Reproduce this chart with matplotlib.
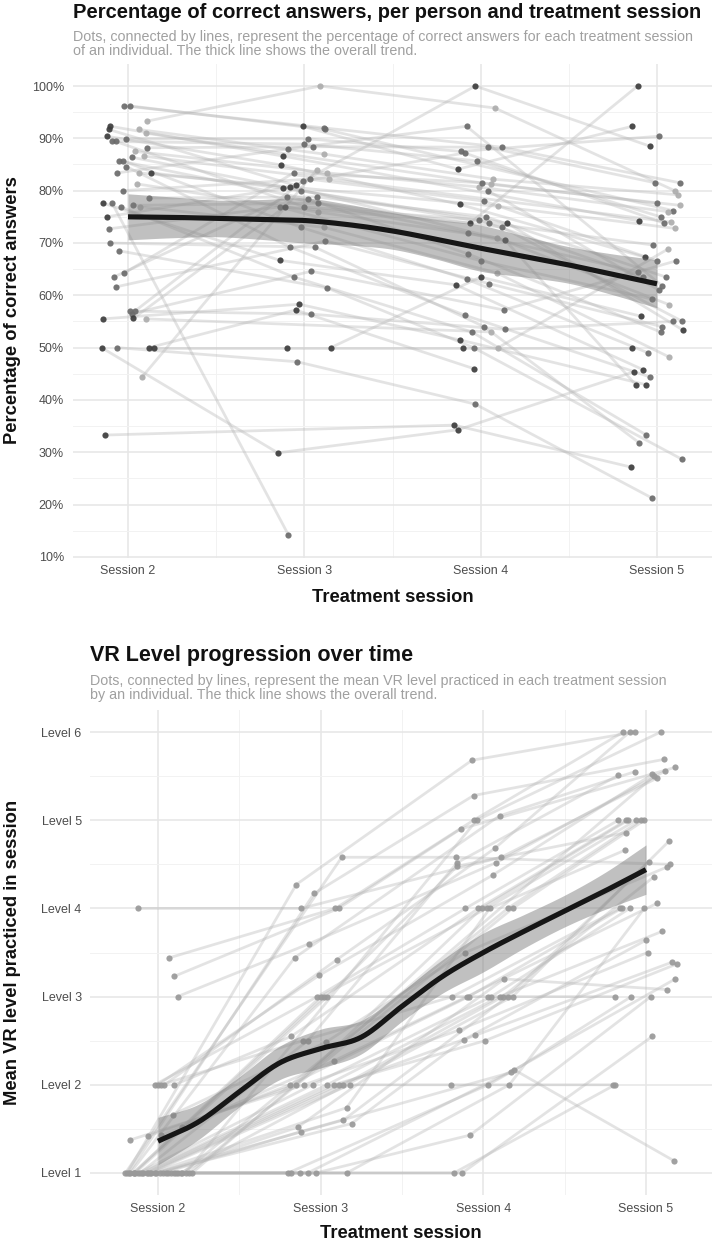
import numpy as np
import matplotlib
matplotlib.use("Agg")
import matplotlib.pyplot as plt

nan = np.nan

# ---------------- DATA ----------------
sessions = [2, 3, 4, 5]
session_labels = ["Session 2", "Session 3", "Session 4", "Session 5"]

# Panel 1: percentage of correct answers, one entry per individual
pct_s2 = [96.2, 96.2, 93.3, 92.3, 91.7, 91.7, 91.0, 90.4, 89.9, 89.4, 89.4, 88.2, 87.5, 86.6, 86.4, 85.7,
          85.7, 84.6, 83.4, 83.4, 83.4, 81.3, 80.0, 78.6, 77.6, 77.6, 77.2, 76.9, 76.9, 75.0, 72.7, 70.0,
          68.5, 64.3, 63.5, 61.6, 57.0, 57.0, 56.5, 55.6, 55.5, 55.5, 50.0, 50.0, 50.0, 50.0, 44.4, 33.3,
          nan, nan, nan, nan]
pct_s3 = [92.0, 91.7, 100.0, 86.6, 81.0, 87.0, nan, 84.9, 89.9, 88.9, 76.9, 88.4, 83.4, 82.2, 80.0, 78.4,
          73.0, 69.2, 88.0, nan, 80.5, 75.9, 82.2, 78.8, 66.7, 14.2, 77.6, 63.5, 73.0, 80.7, 76.9, 69.2,
          61.4, 83.4, 78.8, 70.4, 56.4, 81.8, 64.6, 76.9, 58.3, nan, 29.9, 47.3, 57.2, 50.0, 84.0, nan,
          92.3, 50.0, nan, nan]
pct_s4 = [88.3, nan, 95.8, nan, 100.0, 82.2, 81.2, 77.4, 87.5, 85.7, 74.4, 88.3, 80.7, nan, 73.8, 67.9,
          63.1, 56.2, 92.3, 77.0, 73.8, 71.0, 78.0, 75.0, 62.0, nan, 73.0, 53.0, 64.3, 70.5, 66.6, 54.0,
          50.0, 81.5, 71.9, 62.2, 53.5, 87.2, 57.2, 73.8, 51.5, 53.0, 34.3, 39.2, 46.0, 50.0, nan, 35.2,
          84.1, 63.5, 80.0, 50.0]
pct_s5 = [81.5, 76.2, 80.0, 74.2, 88.5, 79.2, 77.2, 67.3, 90.4, 75.0, 63.5, 81.5, 76.0, 74.0, 69.6, 53.0,
          49.0, 44.4, 61.8, 72.8, 53.3, 58.2, 66.6, 63.5, 45.8, nan, 55.1, 33.3, 48.2, 42.9, 59.3, 31.8,
          28.7, 77.6, 64.5, 54.0, 55.0, 73.8, 66.6, 100.0, 42.9, nan, 45.4, 21.3, nan, 50.0, nan, 27.2,
          92.3, 56.0, 61.0, 68.8]
# horizontal jitter of each dot (session units)
pct_jit_s2 = [-0.02, 0.01, 0.11, -0.10, -0.11, 0.06, 0.10, -0.12, -0.01, -0.09, -0.07, 0.11, 0.04, 0.09, 0.02, -0.05,
              -0.03, -0.01, -0.06, 0.06, 0.13, 0.05, -0.03, 0.12, -0.14, -0.09, 0.03, -0.04, 0.07, -0.12, -0.11, -0.10,
              -0.05, -0.02, -0.08, -0.07, 0.01, 0.04, 0.02, 0.03, -0.14, 0.10, -0.15, -0.06, 0.12, 0.15, 0.08, -0.13,
              0, 0, 0, 0]
pct_jit_s3 = [0.11, 0.12, 0.09, -0.12, -0.05, 0.11, 0, -0.13, 0.02, 0.00, 0.00, 0.05, 0.13, 0.14, -0.02, 0.02,
              -0.02, -0.08, -0.09, 0, -0.12, 0.08, 0.03, 0.07, -0.14, -0.09, 0.08, -0.06, 0.11, -0.08, -0.14, 0.06,
              0.13, -0.06, -0.10, 0.12, 0.04, -0.01, 0.04, -0.11, -0.03, 0, -0.15, -0.04, -0.05, -0.10, 0.07, 0,
              -0.01, 0.15, 0, 0]
pct_jit_s4 = [0.12, 0, 0.08, 0, -0.03, 0.07, 0.06, -0.12, -0.11, -0.02, -0.01, 0.04, -0.01, 0, 0.05, -0.07,
              -0.08, -0.09, -0.08, 0.10, 0.15, 0.09, 0.02, 0.03, -0.14, 0, 0.12, -0.05, 0.09, 0.14, 0.00, 0.02,
              -0.04, 0.01, -0.07, 0.05, 0.14, -0.09, 0.13, -0.06, -0.12, 0.06, -0.13, -0.03, -0.04, -0.10, 0, -0.15,
              -0.13, 0.00, 0.04, 0.10]
pct_jit_s5 = [0.13, 0.09, 0.10, -0.10, -0.04, 0.12, 0.13, -0.07, 0.01, 0.02, -0.08, -0.01, 0.06, 0.08, -0.02, 0.02,
              -0.05, -0.04, 0.03, 0.10, 0.15, 0.07, 0.00, 0.05, -0.08, 0, 0.14, -0.06, 0.07, -0.12, -0.03, -0.10,
              0.14, 0.00, -0.11, 0.03, 0.09, 0.04, 0.11, -0.11, -0.06, 0, -0.13, -0.03, 0, -0.14, 0, -0.15,
              -0.14, -0.09, 0.01, 0.06]
# grey shade of each individual's dots (0 = black, 1 = white)
pct_shade = [0.42, 0.42, 0.68, 0.24, 0.24, 0.68, 0.68, 0.24, 0.42, 0.42, 0.42, 0.42, 0.68, 0.68, 0.42, 0.42,
             0.42, 0.42, 0.42, 0.68, 0.24, 0.68, 0.42, 0.42, 0.24, 0.42, 0.42, 0.42, 0.68, 0.24, 0.42, 0.42,
             0.42, 0.42, 0.42, 0.42, 0.42, 0.42, 0.42, 0.24, 0.24, 0.68, 0.24, 0.42, 0.24, 0.24, 0.68, 0.24,
             0.24, 0.24, 0.42, 0.68]
# overall trend (smooth)
trend_x = [2.0, 2.25, 2.5, 2.75, 3.0, 3.25, 3.5, 3.75, 4.0, 4.25, 4.5, 4.75, 5.0]
pct_trend = [75.0, 74.9, 74.7, 74.5, 74.3, 73.5, 72.3, 70.7, 69.0, 67.4, 65.8, 64.0, 62.2]
pct_trend_se = [4.4, 3.9, 3.5, 3.8, 4.3, 3.9, 3.5, 3.8, 4.4, 3.9, 3.5, 3.9, 4.6]

# Panel 2: mean VR level practiced, one entry per individual
vr_s2 = [4.0, 3.44, 3.23, 3.0, 2.0, 2.0, 2.0, 2.0, 2.0, 1.66, 1.52, 1.43, 1.42, 1.375,
         1, 1, 1, 1, 1, 1, 1, 1, 1, 1, 1, 1, 1, 1, 1, 1, 1, 1, 1, 1, 1, 1, 1, 1, 1, 1, 1, 1, 1, 1]
vr_s3 = [4.0, 4.0, 4.0, 3.6, 3.0, 3.24, 2.5, 3.42, 2.55, 2.48, 2.27, 2.0, 2.0, 2.0,
         4.58, 4.27, 4.17, 3.44, 3.0, 3.0, 3.0, 2.0, 2.5, 2.0, 2.0, 2.0, 2.0, 2.0, 1.74, 1.6,
         1.56, 1.52, 1.47, 1.0, 1.0, 1.0, 1.0, 1.0, 1.0, nan, nan, nan, nan, nan]
vr_s4 = [4.58, 5.0, 4.9, 4.52, 4.0, 4.38, 3.0, 4.68, 4.0, 3.5, 3.0, 3.0, 4.0, 2.62,
         4.58, 5.68, 5.28, 5.05, 4.0, 3.0, 4.48, 3.0, 4.52, 3.0, 2.5, 2.56, 3.0, 2.0, 4.0, 3.0,
         2.51, 3.2, 2.14, 2.0, 1.0, 1.0, 2.17, 1.43, 2.0, 3.0, 4.0, 5.0, 4.0, nan]
vr_s5 = [5.48, 6.0, 5.6, 5.56, 5.0, 5.52, 4.0, 6.0, 5.0, 4.47, 4.06, 4.0, 5.0, 3.5,
         4.5, 6.0, 5.69, 5.55, 5.0, 3.0, 4.86, 4.0, 5.51, 3.74, 3.37, 3.39, 4.36, 2.0, 4.66, 4.53,
         3.64, 3.08, 3.0, 3.2, 2.0, 2.55, 1.14, 3.0, 4.0, 4.76, 5.0, 6.0, 5.0, 5.5]
vr_jit_s2 = [-0.12, 0.07, 0.10, 0.12, -0.02, 0.00, 0.02, 0.04, 0.10, 0.09, 0.15, 0.02, -0.06, -0.17,
             -0.20, -0.19, -0.18, -0.17, -0.15, -0.15, -0.14, -0.12, -0.11, -0.10, -0.09, -0.07, -0.06, -0.05, -0.04, -0.02,
             -0.01, 0.01, 0.03, 0.05, 0.06, 0.08, 0.10, 0.11, 0.12, 0.14, 0.15, 0.17, 0.19, 0.21]
vr_jit_s3 = [-0.12, 0.09, 0.11, -0.07, -0.02, -0.01, -0.11, 0.10, -0.18, 0.03, 0.08, -0.19, -0.15, -0.10,
             0.13, -0.15, -0.04, -0.16, 0.00, 0.02, 0.04, -0.05, -0.08, 0.04, 0.08, 0.11, 0.14, 0.18, 0.16, 0.14,
             0.19, -0.14, -0.12, -0.20, -0.18, -0.13, -0.08, -0.03, 0.16, 0, 0, 0, 0, 0]
vr_jit_s4 = [0.11, -0.06, -0.14, 0.08, -0.11, 0.06, -0.19, 0.07, -0.03, -0.11, -0.10, -0.09, -0.01, -0.15,
             -0.17, -0.07, -0.06, 0.10, 0.02, 0.03, -0.16, 0.05, -0.16, 0.10, 0.01, -0.05, 0.12, -0.20, 0.04, 0.15,
             -0.12, 0.13, 0.17, 0.03, -0.18, -0.13, 0.19, -0.08, 0.16, 0.18, 0.15, -0.04, 0.18, 0]
vr_jit_s5 = [0.07, -0.14, 0.18, 0.12, -0.17, 0.04, -0.16, -0.10, -0.12, 0.13, 0.07, -0.15, -0.11, 0.01,
             0.15, -0.07, 0.11, -0.07, -0.06, -0.19, -0.12, -0.10, -0.17, 0.10, 0.19, 0.16, 0.05, -0.20, -0.13, 0.02,
             0.00, 0.13, -0.09, 0.18, -0.19, 0.04, 0.17, 0.03, -0.01, 0.14, -0.03, 0.09, -0.01, 0.05]
vr_trend = [1.36, 1.58, 1.92, 2.25, 2.41, 2.54, 2.89, 3.23, 3.50, 3.74, 3.97, 4.20, 4.44]
vr_trend_se = [0.27, 0.20, 0.17, 0.19, 0.22, 0.19, 0.17, 0.19, 0.22, 0.19, 0.18, 0.21, 0.28]

pct_ticks = [10, 20, 30, 40, 50, 60, 70, 80, 90, 100]
pct_tick_labels = [f"{v}%" for v in pct_ticks]
vr_ticks = [1, 2, 3, 4, 5, 6]
vr_tick_labels = [f"Level {v}" for v in vr_ticks]

# ---------------- STYLE ----------------
FONT = ["Liberation Sans", "DejaVu Sans"]
plt.rcParams["font.family"] = FONT
W, H = 715, 1244
fig = plt.figure(figsize=(W / 100, H / 100), dpi=100)


def fx(x):
    return x / W


def fy(y):
    return 1 - y / H


def catmull(xk, yk, n=24):
    xk = np.asarray(xk, float)
    yk = np.asarray(yk, float)
    px = np.concatenate([[2 * xk[0] - xk[1]], xk, [2 * xk[-1] - xk[-2]]])
    py = np.concatenate([[2 * yk[0] - yk[1]], yk, [2 * yk[-1] - yk[-2]]])
    xs, ys = [], []
    for i in range(1, len(px) - 2):
        t = np.linspace(0, 1, n, endpoint=False)
        for arr, out in ((px, xs), (py, ys)):
            p0, p1, p2, p3 = arr[i - 1], arr[i], arr[i + 1], arr[i + 2]
            out.append(0.5 * ((2 * p1) + (-p0 + p2) * t + (2 * p0 - 5 * p1 + 4 * p2 - p3) * t ** 2
                              + (-p0 + 3 * p1 - 3 * p2 + p3) * t ** 3))
    xs.append([xk[-1]])
    ys.append([yk[-1]])
    return np.concatenate(xs), np.concatenate(ys)


def style_axes(ax, xlim, ylim, yticks, ylabels, yminor, ypad):
    ax.set_xlim(*xlim)
    ax.set_ylim(*ylim)
    ax.set_xticks(sessions)
    ax.set_xticklabels(session_labels)
    ax.set_xticks([2.5, 3.5, 4.5], minor=True)
    ax.set_yticks(yticks)
    ax.set_yticklabels(ylabels)
    ax.set_yticks(yminor, minor=True)
    ax.grid(True, which="major", color="#e6e6e6", lw=1.1, zorder=0)
    ax.grid(True, which="minor", color="#f2f2f2", lw=0.7, zorder=0)
    ax.set_axisbelow(True)
    for s in ax.spines.values():
        s.set_visible(False)
    ax.tick_params(which="both", length=0, labelsize=9, labelcolor="#4d4d4d")
    ax.tick_params(axis="y", pad=ypad)
    ax.tick_params(axis="x", pad=5.5)


def draw_individuals(ax, series, jitters, colors, point_size):
    vals = np.array(series, float).T
    jit = np.array(jitters, float).T
    xs = np.array(sessions, float)
    for i in range(vals.shape[0]):
        ok = ~np.isnan(vals[i])
        ax.plot(xs[ok] + jit[i][ok], vals[i][ok], color="#b4b4b4", alpha=0.36, lw=2.0,
                solid_capstyle="butt", zorder=2)
    for i in range(vals.shape[0]):
        ok = ~np.isnan(vals[i])
        ax.scatter(xs[ok] + jit[i][ok], vals[i][ok], s=point_size, color=colors[i], alpha=0.92,
                   linewidths=0, zorder=3)


def draw_trend(ax, trend, se):
    tx, ty = catmull(trend_x, trend)
    _, tlo = catmull(trend_x, np.array(trend) - np.array(se))
    _, thi = catmull(trend_x, np.array(trend) + np.array(se))
    ax.fill_between(tx, tlo, thi, color="#7a7a7a", alpha=0.47, lw=0, zorder=4)
    ax.plot(tx, ty, color="#161616", lw=3.7, solid_capstyle="butt", zorder=5)


# ---------------- PANEL 1 ----------------
ax1 = fig.add_axes([fx(73), fy(557.5), (712 - 73) / W, (557.5 - 63.5) / H])
style_axes(ax1, (1.688, 5.312), (9.9, 104.3), pct_ticks, pct_tick_labels,
           [15, 25, 35, 45, 55, 65, 75, 85, 95], 6.5)
pct_colors = [str(s) for s in pct_shade]
draw_individuals(ax1, [pct_s2, pct_s3, pct_s4, pct_s5],
                 [pct_jit_s2, pct_jit_s3, pct_jit_s4, pct_jit_s5], pct_colors, 20)
draw_trend(ax1, pct_trend, pct_trend_se)

fig.text(fx(73), fy(13), "Percentage of correct answers, per person and treatment session",
         fontsize=14.5, fontweight="bold", ha="left", va="center", color="#111111")
fig.text(fx(73), fy(37), "Dots, connected by lines, represent the percentage of correct answers for each treatment session",
         fontsize=10.3, ha="left", va="center", color="#a0a0a0")
fig.text(fx(73), fy(51), "of an individual. The thick line shows the overall trend.",
         fontsize=10.3, ha="left", va="center", color="#a0a0a0")
fig.text(fx(392.5), fy(597), "Treatment session", fontsize=13.2, fontweight="bold",
         ha="center", va="center", color="#111111")
fig.text(fx(13), fy(310.5), "Percentage of correct answers", fontsize=13.2, fontweight="bold",
         ha="center", va="center", rotation=90, color="#111111")

# ---------------- PANEL 2 ----------------
ax2 = fig.add_axes([fx(90), fy(1195), (712 - 90) / W, (1195 - 710) / H])
style_axes(ax2, (1.582, 5.406), (0.75, 6.25), vr_ticks, vr_tick_labels,
           [1.5, 2.5, 3.5, 4.5, 5.5], 6)
vr_colors = ["#999999"] * len(vr_s2)
draw_individuals(ax2, [vr_s2, vr_s3, vr_s4, vr_s5],
                 [vr_jit_s2, vr_jit_s3, vr_jit_s4, vr_jit_s5], vr_colors, 20)
draw_trend(ax2, vr_trend, vr_trend_se)

fig.text(fx(90), fy(656), "VR Level progression over time",
         fontsize=15.5, fontweight="bold", ha="left", va="center", color="#111111")
fig.text(fx(90), fy(681), "Dots, connected by lines, represent the mean VR level practiced in each treatment session",
         fontsize=10.3, ha="left", va="center", color="#a0a0a0")
fig.text(fx(90), fy(695), "by an individual. The thick line shows the overall trend.",
         fontsize=10.3, ha="left", va="center", color="#a0a0a0")
fig.text(fx(401), fy(1233), "Treatment session", fontsize=13.2, fontweight="bold",
         ha="center", va="center", color="#111111")
fig.text(fx(13), fy(952.5), "Mean VR level practiced in session", fontsize=13.2, fontweight="bold",
         ha="center", va="center", rotation=90, color="#111111")

fig.savefig("out.png", dpi=100, facecolor="white")
